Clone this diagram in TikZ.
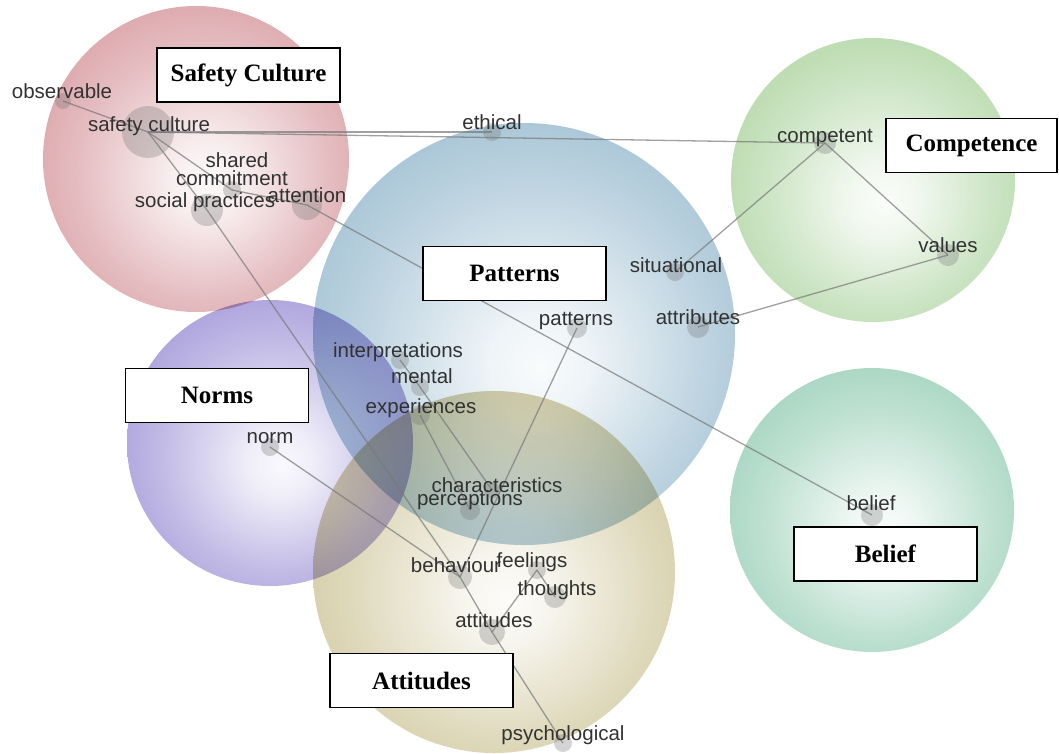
\documentclass[tikz,border=0pt]{standalone}
\usepackage{fontspec}
\setmainfont{Liberation Serif}
\newfontfamily\termfont{Liberation Sans}

% theme colours (edge tones of the shaded spheres)
\definecolor{scEdge}{RGB}{198,112,120}
\definecolor{ptEdge}{RGB}{112,160,188}
\definecolor{cpEdge}{RGB}{142,196,124}
\definecolor{nmEdge}{RGB}{120,104,198}
\definecolor{atEdge}{RGB}{186,174,112}
\definecolor{blEdge}{RGB}{112,188,154}
\definecolor{termText}{RGB}{50,50,50}
\definecolor{linkGrey}{RGB}{120,120,120}

% one radial shading per theme: light core, saturated rim
\newcommand{\themeshading}[2]{%
  \pgfdeclareradialshading{#1}{\pgfpoint{2bp}{-4bp}}{%
    color(0bp)=(#2!4!white);
    color(6bp)=(#2!12!white);
    color(20bp)=(#2!45!white);
    color(34bp)=(#2!72!white);
    color(46bp)=(#2!92!white);
    color(50bp)=(#2)}}
\themeshading{shSafety}{scEdge}
\themeshading{shPatterns}{ptEdge}
\themeshading{shCompetence}{cpEdge}
\themeshading{shNorms}{nmEdge}
\themeshading{shAttitudes}{atEdge}
\themeshading{shBelief}{blEdge}

\begin{document}
\begin{tikzpicture}[x=1pt,y=-1pt,
  theme/.style={blend mode=multiply},
  dot/.style={circle, draw=none, fill=black!55, fill opacity=0.3,
              inner sep=0pt, minimum size=#1},
  term/.style={anchor=base, inner sep=0pt, text=termText,
               font=\termfont\fontsize{20.5}{22}\selectfont},
  link/.style={draw=linkGrey, line width=1.3pt, draw opacity=0.7},
  themebox/.style={draw=black, line width=1.8pt, fill=white,
                   minimum width=183pt, minimum height=54pt, inner sep=0pt,
                   font=\bfseries\fontsize{25}{30}\selectfont}]

\useasboundingbox (0,0) rectangle (1059,753);
\fill[white] (0,0) rectangle (1059,753);

% theme spheres
\shade[theme, shading=shSafety]     (196,159) circle[radius=153];
\shade[theme, shading=shPatterns]   (524,334) circle[radius=211];
\shade[theme, shading=shCompetence] (873,180) circle[radius=142];
\shade[theme, shading=shNorms]      (270,443) circle[radius=143];
\shade[theme, shading=shAttitudes]  (494,572) circle[radius=181];
\shade[theme, shading=shBelief]     (872,510) circle[radius=142];

% concept dots
\node[dot=16] (observable)      at (63,101)  {};
\node[dot=52] (safetyculture)   at (148,132) {};
\node[dot=18] (commitment)      at (232,190) {};
\node[dot=32] (socialpractices) at (207,210) {};
\node[dot=30] (attention)       at (307,205) {};
\node[dot=18] (ethical)         at (492,132) {};
\node[dot=18] (situational)     at (675,272) {};
\node[dot=20] (patterns)        at (577,328) {};
\node[dot=22] (attributes)      at (698,327) {};
\node[dot=22] (competent)       at (825,143) {};
\node[dot=22] (values)          at (948,255) {};
\node[dot=18] (norm)            at (270,447) {};
\node[dot=18] (interpretations) at (400,360) {};
\node[dot=18] (mental)          at (420,387) {};
\node[dot=20] (experiences)     at (420,415) {};
\node[dot=16] (characteristics) at (492,490) {};
\node[dot=20] (perceptions)     at (470,510) {};
\node[dot=24] (behaviour)       at (460,577) {};
\node[dot=18] (feelings)        at (537,570) {};
\node[dot=22] (thoughts)        at (555,597) {};
\node[dot=26] (attitudes)       at (492,632) {};
\node[dot=18] (psychological)   at (563,743) {};
\node[dot=22] (belief)          at (872,515) {};

% links between concepts
\draw[link] (observable.center) -- (safetyculture.center);
\draw[link] (safetyculture.center) -- (ethical.center);
\draw[link] (safetyculture.center) -- (competent.center);
\draw[link] (safetyculture.center) -- (commitment.center);
\draw[link] (commitment.center) -- (attention.center);
\draw[link] (attention.center) -- (belief.center);
\draw[link] (safetyculture.center) -- (socialpractices.center);
\draw[link] (socialpractices.center) -- (behaviour.center);
\draw[link] (competent.center) -- (situational.center);
\draw[link] (competent.center) -- (values.center);
\draw[link] (values.center) -- (attributes.center);
\draw[link] (patterns.center) -- (behaviour.center);
\draw[link] (norm.center) -- (behaviour.center);
\draw[link] (interpretations.center) -- (mental.center);
\draw[link] (mental.center) -- (characteristics.center);
\draw[link] (experiences.center) -- (perceptions.center);
\draw[link] (behaviour.center) -- (attitudes.center);
\draw[link] (attitudes.center) -- (feelings.center);
\draw[link] (feelings.center) -- (thoughts.center);
\draw[link] (attitudes.center) -- (psychological.center);

% concept labels
\node[term] (tObservable)      at (62,98)   {observable};
\node[term] (tSafetyculture)   at (149,131) {safety culture};
\node[term] (tShared)          at (237,167) {shared};
\node[term] (tCommitment)      at (232,185) {commitment};
\node[term] (tSocialpractices) at (205,207) {social practices};
\node[term] (tAttention)       at (307,202) {attention};
\node[term] (tEthical)         at (492,129) {ethical};
\node[term] (tSituational)     at (676,272) {situational};
\node[term] (tPatterns)        at (576,325) {patterns};
\node[term] (tAttributes)      at (698,324) {attributes};
\node[term] (tCompetent)       at (825,142) {competent};
\node[term] (tValues)          at (948,252) {values};
\node[term] (tNorm)            at (270,443) {norm};
\node[term] (tInterpretations) at (398,357) {interpretations};
\node[term] (tMental)          at (422,383) {mental};
\node[term] (tExperiences)     at (421,413) {experiences};
\node[term] (tCharacteristics) at (497,492) {characteristics};
\node[term] (tPerceptions)     at (470,505) {perceptions};
\node[term] (tBehaviour)       at (456,572) {behaviour};
\node[term] (tFeelings)        at (532,567) {feelings};
\node[term] (tThoughts)        at (557,595) {thoughts};
\node[term] (tAttitudes)       at (494,627) {attitudes};
\node[term] (tPsychological)   at (563,740) {psychological};
\node[term] (tBelief)          at (871,510) {belief};

% theme name boxes
\node[themebox] (bSafety)     at (248.5,75)  {Safety Culture};
\node[themebox, minimum width=171pt] (bCompetence) at (971.5,145.5) {Competence};
\node[themebox] (bPatterns)   at (514.5,273.5) {Patterns};
\node[themebox] (bNorms)      at (217,395.5) {Norms};
\node[themebox] (bBelief)     at (885.5,554) {Belief};
\node[themebox] (bAttitudes)  at (421.5,680.5) {Attitudes};

\end{tikzpicture}
\end{document}
